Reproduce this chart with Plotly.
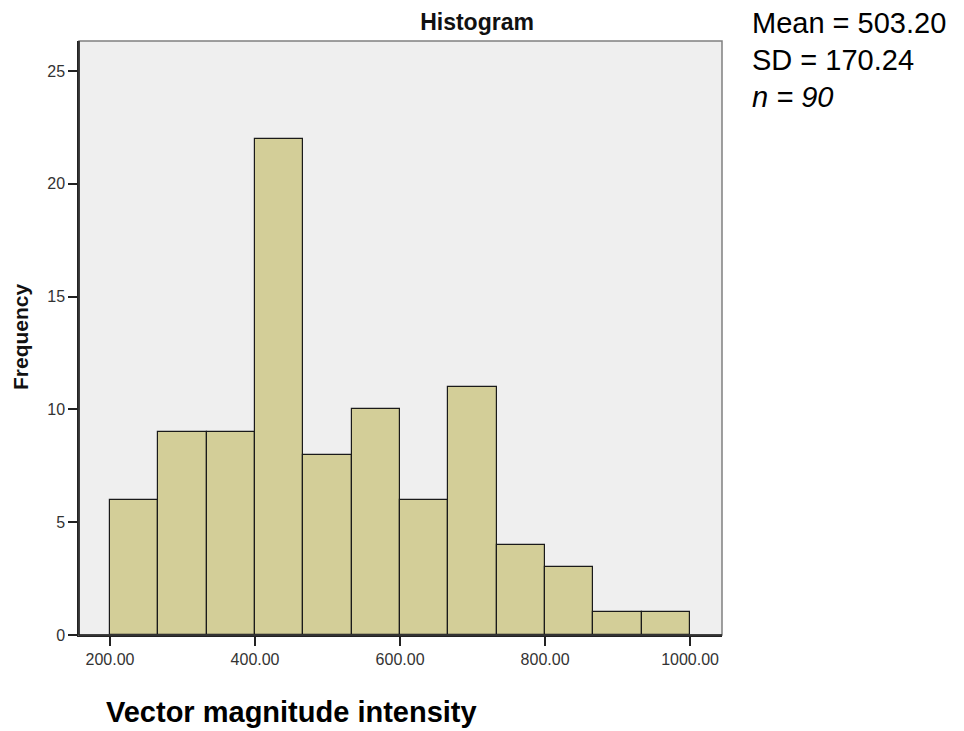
import plotly.graph_objects as go

bin_start = 200.0
bin_width = 800.0 / 12
counts = [6, 9, 9, 22, 8, 10, 6, 11, 4, 3, 1, 1]
x_ticks = [200, 400, 600, 800, 1000]
x_tick_labels = ["200.00", "400.00", "600.00", "800.00", "1000.00"]
y_ticks = [0, 5, 10, 15, 20, 25]
stats_text = ["Mean = 503.20", "SD = 170.24", "<i>n = 90</i>"]

centers = [bin_start + bin_width * (i + 0.5) for i in range(len(counts))]

# page offset (body margin) compensation
OFF = 8
PL, PR, PT, PB = 79, 722, 41, 635   # plot area in page pixels
W, H = 964 - OFF, 731 - OFF
pw, ph = PR - PL, PB - PT

fig = go.Figure()
fig.add_trace(go.Bar(
    x=centers, y=counts, width=[bin_width] * len(counts),
    marker=dict(color="#d3ce98", line=dict(color="#1a1a1a", width=1.2)),
    hoverinfo="x+y",
))

fig.update_layout(
    width=W, height=H,
    margin=dict(l=PL - OFF, r=W - (PR - OFF), t=PT - OFF, b=H - (PB - OFF)),
    paper_bgcolor="white", plot_bgcolor="#efefef",
    font=dict(family="Liberation Sans, Arial, sans-serif", color="#222"),
    showlegend=False,
    bargap=0,
    title=dict(text="<b>Histogram</b>", x=(477 - OFF) / W, xanchor="center", xref="container",
               y=1 - (22 - OFF) / H, yanchor="middle", yref="container",
               font=dict(size=23, color="#111")),
    xaxis=dict(range=[157.2, 1044], tickvals=x_ticks, ticktext=x_tick_labels,
               ticks="outside", ticklen=9, tickcolor="#222", tickwidth=1.5,
               showgrid=False, zeroline=False,
               showline=True, linecolor="#222", linewidth=1.5,
               tickfont=dict(size=16, color="#333")),
    yaxis=dict(range=[0, 26.33], tickvals=y_ticks, ticks="outside", ticklen=9,
               tickcolor="#222", tickwidth=1.5,
               showgrid=False, zeroline=False, showline=True, linecolor="#222", linewidth=1.5,
               tickfont=dict(size=16, color="#333")),
)

fig.add_shape(type="rect", xref="paper", yref="paper", x0=0, x1=1, y0=0, y1=1,
              line=dict(color="#808080", width=1.5), fillcolor="rgba(0,0,0,0)", layer="above")
fig.add_shape(type="line", xref="paper", yref="paper", x0=0, x1=0, y0=0, y1=1,
              line=dict(color="#222", width=1.5), layer="above")
fig.add_shape(type="line", xref="paper", yref="paper", x0=0, x1=1, y0=0, y1=0,
              line=dict(color="#222", width=1.5), layer="above")

fig.add_annotation(text="<b>Frequency</b>", textangle=-90, xref="paper", yref="paper",
                   x=(20 - PL) / pw, y=(PB - 337) / ph, xanchor="center", yanchor="middle",
                   showarrow=False, font=dict(size=21, color="#111"))

line_centers = [23, 60, 97]
for txt, yc in zip(stats_text, line_centers):
    fig.add_annotation(text=txt, xref="paper", yref="paper",
                       x=(751 - PL) / pw, y=(PB - yc) / ph, xanchor="left", yanchor="middle",
                       align="left", showarrow=False, borderpad=0,
                       font=dict(size=29, color="#000", family="Liberation Sans, Arial, sans-serif"))

fig.add_annotation(text="<b>Vector magnitude intensity</b>", xref="paper", yref="paper",
                   x=(291.5 - PL) / pw, y=-(712 - PB) / ph, xanchor="center", yanchor="middle",
                   showarrow=False, font=dict(size=29, color="#000"))

fig.write_html("out.html")
